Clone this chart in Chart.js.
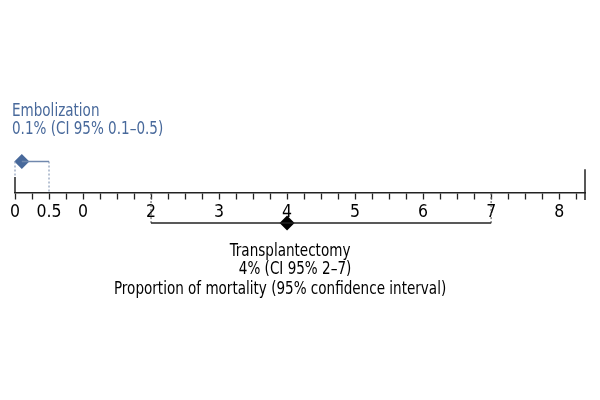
<!DOCTYPE html>
<html lang="en">
<head>
<meta charset="UTF-8">
<title>Proportion of mortality</title>
<script src="https://cdn.jsdelivr.net/npm/chart.js"></script>
<style>
  html, body { margin: 0; padding: 0; background: #fff; }
</style>
</head>
<body>
<canvas id="forest" width="600" height="400"></canvas>
<script>
// data
const groups = ['Embolization', 'Transplantectomy'];
const estimates = [0.1, 4];
const ciLow = [0.1, 2];
const ciHigh = [0.5, 7];
const rowLevel = [1, -1];
const summaries = ['0.1% (CI 95% 0.1–0.5)', '4% (CI 95% 2–7)'];
const axisTitle = 'Proportion of mortality (95% confidence interval)';
const tickValues = [0, 0.5, 1, 2, 3, 4, 5, 6, 7, 8];
const tickLabels = ['0', '0.5', '0', '2', '3', '4', '5', '6', '7', '8'];
const axisMin = 0;
const axisMax = 8.38;

const groupColors = ['#48699b', '#000000'];
const lineColors = ['#7088ad', '#222222'];
const FONT = '"DejaVu Sans Condensed", "Liberation Sans", sans-serif';
const CONDENSE = 0.86; // the original uses a narrow typeface

// plain line piece between two data points
function segment(x1, y1, x2, y2, color, width, dash) {
    return {
        type: 'scatter',
        showLine: true,
        data: [{x: x1, y: y1}, {x: x2, y: y2}],
        borderColor: color,
        borderWidth: width,
        borderDash: dash || [],
        pointRadius: 0,
        clip: false
    };
}

const datasets = [];

// ends of the axis
datasets.push(segment(axisMin, 0, axisMin, 0.5, '#222', 1.5));
datasets.push(segment(axisMax, 0.75, axisMax, -0.25, '#222', 1.5));

// embolization row
datasets.push(segment(ciLow[0], rowLevel[0], ciHigh[0], rowLevel[0], lineColors[0], 1.5));
datasets.push(segment(ciHigh[0], rowLevel[0], ciHigh[0], 0, '#8a9bb8', 1.2, [2, 2]));
datasets.push(segment(axisMin, rowLevel[0], axisMin, 0.5, '#8a9bb8', 1.2, [2, 2]));

// transplantectomy row
datasets.push(segment(ciLow[1], rowLevel[1], ciHigh[1], rowLevel[1], lineColors[1], 1.5));
datasets.push(segment(ciLow[1], rowLevel[1], ciLow[1], 0, '#666', 1.2, [2, 2]));
datasets.push(segment(ciHigh[1], rowLevel[1], ciHigh[1], 0, '#666', 1.2, [2, 2]));

// point estimates as diamonds
groups.forEach((g, i) => {
    datasets.push({
        type: 'scatter',
        label: g,
        data: [{x: estimates[i], y: rowLevel[i]}],
        pointStyle: 'rectRot',
        pointRadius: 7.5,
        backgroundColor: groupColors[i],
        borderColor: groupColors[i],
        borderWidth: 0,
        clip: false
    });
});

function narrowText(ctx, text, x, y, align) {
    ctx.save();
    ctx.translate(x, y);
    ctx.scale(CONDENSE, 1);
    ctx.textAlign = align;
    ctx.fillText(text, 0, 0);
    ctx.restore();
}

const labelPlugin = {
    id: 'rowLabels',
    afterDatasetsDraw(chart) {
        const {ctx, scales: {x, y}} = chart;
        ctx.save();
        ctx.font = '17.5px ' + FONT;
        ctx.textBaseline = 'alphabetic';

        // embolization text sits above its row, left aligned
        const ey = y.getPixelForValue(rowLevel[0]);
        ctx.fillStyle = groupColors[0];
        narrowText(ctx, groups[0], 12, ey - 46, 'left');
        narrowText(ctx, summaries[0], 12, ey - 28, 'left');

        // transplantectomy text sits below, roughly centred on its estimate
        const ty = y.getPixelForValue(rowLevel[1]);
        const tx = x.getPixelForValue(estimates[1]);
        ctx.fillStyle = '#000';
        narrowText(ctx, groups[1], tx + 3, ty + 32.5, 'center');
        narrowText(ctx, summaries[1], tx + 8, ty + 51, 'center');
        narrowText(ctx, axisTitle, tx - 7, ty + 71, 'center');
        ctx.restore();
    }
};

new Chart(document.getElementById('forest'), {
    type: 'scatter',
    data: { datasets: datasets },
    options: {
        responsive: false,
        animation: false,
        devicePixelRatio: 1,
        layout: { padding: { left: 15, right: 15, top: 0, bottom: 0 } },
        plugins: {
            legend: { display: false },
            tooltip: { enabled: false }
        },
        scales: {
            x: {
                type: 'linear',
                min: axisMin,
                max: axisMax,
                position: { y: 0 },
                afterFit: (scale) => { scale.height = 0; },
                afterBuildTicks: (scale) => {
                    const t = [];
                    for (let v = 0; v <= 8.25; v += 0.25) t.push({ value: v });
                    scale.ticks = t;
                },
                ticks: {
                    autoSkip: false,
                    maxRotation: 0,
                    padding: 4,
                    color: '#000',
                    font: { family: FONT, size: 17.5 },
                    callback: (value) => {
                        const i = tickValues.indexOf(value);
                        return i >= 0 ? tickLabels[i] : '';
                    }
                },
                grid: {
                    drawOnChartArea: false,
                    drawTicks: true,
                    tickLength: 6,
                    tickColor: '#222',
                    tickWidth: 1.3
                },
                border: { display: true, color: '#222', width: 1.5 }
            },
            y: {
                type: 'linear',
                display: false,
                min: -6.5,
                max: 6
            }
        }
    },
    plugins: [labelPlugin]
});
</script>
</body>
</html>
